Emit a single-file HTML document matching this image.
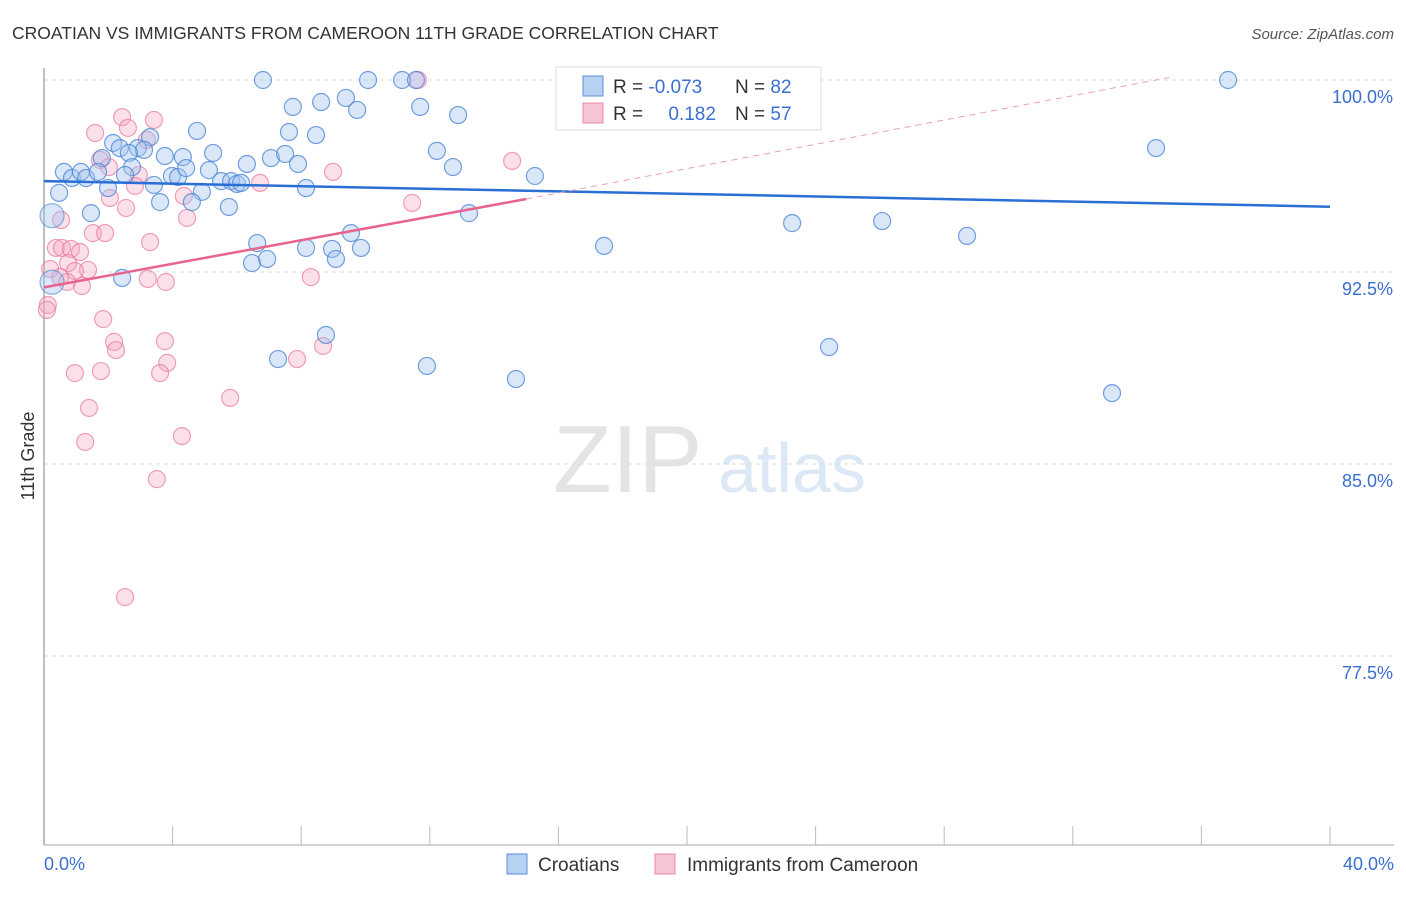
<!DOCTYPE html>
<html><head><meta charset="utf-8"><style>
body{margin:0;background:#fff;font-family:"Liberation Sans",sans-serif;}
svg text{font-family:"Liberation Sans",sans-serif;}
</style></head><body>
<svg id="chart" width="1406" height="892" xmlns="http://www.w3.org/2000/svg">
<text x="12" y="39" font-size="17.5" fill="#333">CROATIAN VS IMMIGRANTS FROM CAMEROON 11TH GRADE CORRELATION CHART</text>
<text x="1394" y="39" font-size="15" fill="#555" font-style="italic" text-anchor="end">Source: ZipAtlas.com</text>
<g><text x="553" y="492" font-size="96" fill="#e4e4e4" font-family="Liberation Serif">ZIP</text><text x="718" y="492" font-size="70" fill="#dce8f6">atlas</text></g>
<g id="grid"></g>
<line x1="44" y1="68" x2="44" y2="845" stroke="#aaa" stroke-width="1.5"/>
<line x1="44" y1="845" x2="1394" y2="845" stroke="#aaa" stroke-width="1"/>
<text transform="translate(34,456) rotate(-90)" font-size="18" fill="#333" text-anchor="middle">11th Grade</text>
<text x="44" y="870" font-size="18" fill="#3a6fd0">0.0%</text>
<text x="1394" y="870" font-size="18" fill="#3a6fd0" text-anchor="end">40.0%</text>
<g id="pts"></g>
<g id="trends"></g>
<g>
<rect x="556" y="67" width="265" height="63" fill="#fff" stroke="#ddd"/>
<rect x="583" y="76" width="20" height="20" fill="#b7d1f3" stroke="#5b8fd8"/>
<rect x="583" y="103" width="20" height="20" fill="#f7c4d3" stroke="#e88aa8"/>
<text x="613" y="93" font-size="19" fill="#333">R = <tspan fill="#3a6fd0">-0.073</tspan></text>
<text x="735" y="93" font-size="19" fill="#333">N = <tspan fill="#3a6fd0">82</tspan></text>
<text x="613" y="120" font-size="19" fill="#333">R = <tspan fill="#3a6fd0" dx="20">0.182</tspan></text>
<text x="735" y="120" font-size="19" fill="#333">N = <tspan fill="#3a6fd0">57</tspan></text>
</g>
<g><rect x="507" y="854" width="20" height="20" fill="#b7d1f3" stroke="#5b8fd8"/><text x="538" y="871" font-size="19" fill="#333">Croatians</text></g>
<g><rect x="655" y="854" width="20" height="20" fill="#f7c4d3" stroke="#e88aa8"/><text x="687" y="871" font-size="19" fill="#333">Immigrants from Cameroon</text></g>
</svg>
<script>
const yTicks=[100,92.5,85,77.5];
const yTickLabels=["100.0%","92.5%","85.0%","77.5%"];
const xTicks=[0,4,8,12,16,20,24,28,32,36,40];
const bluePx=[[263,80],[368,80],[402,80],[416,80],[760,80],[1228,80],[293,107],[321,102],[346,98],[357,110],[420,107],[458,115],[197,131],[289,132],[316,135],[150,137],[113,143],[120,148],[138,148],[144,150],[129,153],[102,158],[165,156],[183,157],[213,153],[247,164],[271,158],[285,154],[298,164],[437,151],[453,167],[535,176],[1156,148],[64,172],[72,178],[81,172],[86,178],[98,172],[132,167],[125,175],[154,185],[172,176],[178,177],[186,168],[209,170],[221,181],[231,181],[237,184],[241,183],[202,192],[306,188],[108,188],[59,193],[91,213],[160,202],[192,202],[229,207],[469,213],[792,223],[882,221],[967,236],[257,243],[351,233],[306,248],[332,249],[361,248],[604,246],[252,263],[267,259],[336,259],[122,278],[326,335],[278,359],[427,366],[516,379],[829,347],[1112,393],[583,108]];
const pinkPx=[[418,80],[95,133],[122,117],[154,120],[128,128],[147,140],[100,160],[109,167],[139,175],[135,186],[260,183],[333,172],[512,161],[184,196],[110,198],[126,208],[412,203],[187,218],[61,220],[93,233],[105,233],[150,242],[56,248],[62,248],[71,249],[80,252],[68,263],[88,270],[75,271],[60,277],[67,282],[82,286],[148,279],[166,282],[311,277],[48,305],[47,310],[103,319],[114,342],[116,350],[165,341],[323,346],[297,359],[167,363],[75,373],[101,371],[160,373],[89,408],[230,398],[182,436],[85,442],[157,479],[125,597],[50,269]];
// data arrays (x in %, y in %)
const xs=v=>44+v*32.15, ys=v=>80+(100-v)*25.6;
const ix=p=>(p-44)/32.15, iy=p=>100-(p-80)/25.6;
const blueX=bluePx.map(p=>+ix(p[0]).toFixed(2)), blueY=bluePx.map(p=>+iy(p[1]).toFixed(2));
const pinkX=pinkPx.map(p=>+ix(p[0]).toFixed(2)), pinkY=pinkPx.map(p=>+iy(p[1]).toFixed(2));
const blueBig=[[0.25,94.7],[0.25,92.1]];
const blueTrend=[[0,96.05],[40,95.05]], pinkTrend=[[0,91.9],[15,95.35]], pinkDash=[[15,95.35],[35,100.1]];
const NS="http://www.w3.org/2000/svg";
function mk(t,a,par){const e=document.createElementNS(NS,t);for(const k in a)e.setAttribute(k,a[k]);document.getElementById(par).appendChild(e);return e;}
yTicks.forEach((v,i)=>{const l=mk('line',{x1:44,x2:1394,y1:ys(v),y2:ys(v),stroke:'#ddd','stroke-dasharray':'4,4'},'grid');


const t=mk('text',{x:1393,y:ys(v)+23,'font-size':18,fill:'#3a6fd0','text-anchor':'end'},'grid');t.textContent=yTickLabels[i];

});
xTicks.forEach(v=>{const l=mk('line',{x1:xs(v),x2:xs(v),y1:826,y2:845,stroke:'#bbb'},'grid');

});
pinkX.forEach((x,i)=>{const c=mk('circle',{cx:xs(x),cy:ys(pinkY[i]),r:8.5,fill:'rgba(244,166,193,0.35)',stroke:'rgba(232,120,157,0.7)','stroke-width':1.2},'pts');

});
blueX.forEach((x,i)=>{const c=mk('circle',{cx:xs(x),cy:ys(blueY[i]),r:8.5,fill:'rgba(160,196,240,0.4)',stroke:'rgba(70,130,210,0.75)','stroke-width':1.2},'pts');

});
blueBig.forEach(p=>{const c=mk('circle',{cx:xs(p[0]),cy:ys(p[1]),r:12,fill:'rgba(160,196,240,0.4)',stroke:'rgba(70,130,210,0.6)','stroke-width':1.2},'pts');

});
function ln(p,st,w,dash,name){const l=mk('line',{x1:xs(p[0][0]),y1:ys(p[0][1]),x2:xs(p[1][0]),y2:ys(p[1][1]),stroke:st,'stroke-width':w},'trends');if(dash)l.setAttribute('stroke-dasharray',dash);

}
ln(blueTrend,'#2a6fd6',2.5,null,'croatian-trend-line');
ln(pinkTrend,'#e8648f',2.5,null,'cameroon-trend-line');
ln(pinkDash,'#e8a0b8',1,'6,5','cameroon-trend-extension');
</script>
</body></html>
